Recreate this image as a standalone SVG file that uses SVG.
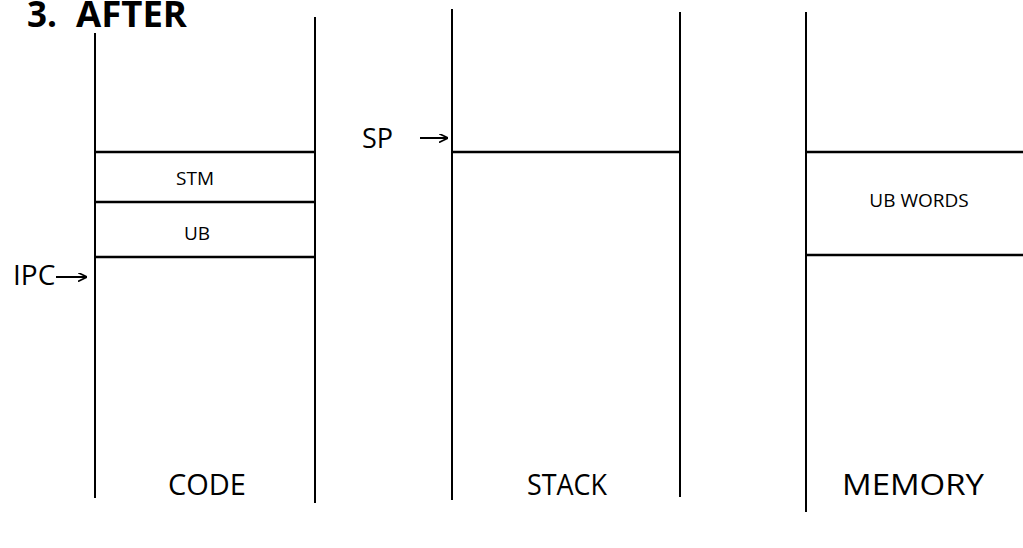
<svg xmlns="http://www.w3.org/2000/svg" width="1023" height="548" viewBox="0 0 1023 548">
<style>
.ln{stroke:#000;stroke-width:2;fill:none}
.hl{stroke:#000;stroke-width:2.5;fill:none}
.t{font-family:"Open Sans","Liberation Sans",sans-serif;fill:#000}
</style>
<defs>
<marker id="ah" viewBox="0 0 10 10" refX="10" refY="5" markerWidth="9" markerHeight="9" markerUnits="userSpaceOnUse" orient="auto">
<path d="M0,0 L10,5 L0,10" fill="none" stroke="#000" stroke-width="1.8"/>
</marker>
</defs>
<rect width="1023" height="548" fill="#fff"/>
<text class="t" y="27" font-size="35" font-weight="bold"><tspan x="27">3.</tspan><tspan x="76" textLength="111" lengthAdjust="spacingAndGlyphs">AFTER</tspan></text>
<g id="code">
<line class="ln" x1="95" y1="33" x2="95" y2="498"/>
<line class="ln" x1="315" y1="17" x2="315" y2="503"/>
<line class="hl" x1="95" y1="152" x2="315" y2="152"/>
<line class="hl" x1="95" y1="202" x2="315" y2="202"/>
<line class="hl" x1="95" y1="257" x2="315" y2="257"/>
<text class="t" x="195" y="185" font-size="19" text-anchor="middle">STM</text>
<text class="t" x="197" y="240" font-size="19" text-anchor="middle">UB</text>
<text class="t" x="207" y="495" font-size="29" text-anchor="middle">CODE</text>
</g>
<g id="stack">
<line class="ln" x1="452" y1="9" x2="452" y2="500"/>
<line class="ln" x1="680" y1="12" x2="680" y2="497"/>
<line class="hl" x1="452" y1="152" x2="680" y2="152"/>
<text class="t" x="567" y="495" font-size="29" text-anchor="middle" textLength="80" lengthAdjust="spacingAndGlyphs">STACK</text>
</g>
<g id="memory">
<line class="ln" x1="806" y1="12" x2="806" y2="512"/>
<line class="hl" x1="806" y1="152" x2="1023" y2="152"/>
<line class="hl" x1="806" y1="255" x2="1023" y2="255"/>
<text class="t" x="919" y="207" font-size="19" text-anchor="middle">UB WORDS</text>
<text class="t" x="913" y="495" font-size="29" text-anchor="middle" textLength="142" lengthAdjust="spacingAndGlyphs">MEMORY</text>
</g>
<g id="ipc">
<text class="t" x="13" y="285" font-size="28">IPC</text>
</g>
<g id="sp">
<text class="t" x="362" y="148" font-size="27">SP</text>
</g>
<g id="connectors">
<line class="ln" x1="56" y1="277" x2="87" y2="277" stroke-width="1.8" marker-end="url(#ah)"/>
<line class="ln" x1="420" y1="138" x2="448" y2="138" stroke-width="1.8" marker-end="url(#ah)"/>
</g>
</svg>
